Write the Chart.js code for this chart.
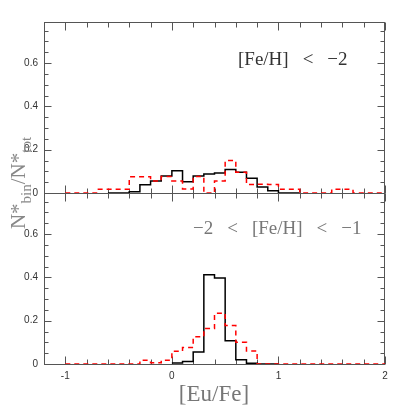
<!DOCTYPE html>
<html>
<head>
<meta charset="utf-8">
<script src="https://cdn.jsdelivr.net/npm/chart.js@4.4.1/dist/chart.umd.min.js"></script>
<style>
html, body { margin: 0; padding: 0; background: #fff; }
#wrap { width: 407px; height: 407px; }
</style>
</head>
<body>
<div id="wrap"><canvas id="euChart" width="407" height="407"></canvas></div>
<script>
// [Eu/Fe] bin edges, 0.1 dex wide
const binEdges = [-1.0, -0.9, -0.8, -0.7, -0.6, -0.5, -0.4, -0.3, -0.2, -0.1,
                  0.0, 0.1, 0.2, 0.3, 0.4, 0.5, 0.6, 0.7, 0.8, 0.9,
                  1.0, 1.1, 1.2, 1.3, 1.4, 1.5, 1.6, 1.7, 1.8, 1.9, 2.0];

// N*bin / N*tot, null = not drawn
const poorModel = [null, null, null, null, 0, 0, 0.006, 0.038, 0.055, 0.078,
                   0.103, 0.052, 0.078, 0.088, 0.092, 0.108, 0.096, 0.068, 0.028, 0.010,
                   0, 0, null, null, null, null, null, null, null, null];
const poorObs   = [0, 0, 0, 0.017, 0.017, 0.017, 0.075, 0.075, 0.056, 0.076,
                   0.056, 0.019, 0.076, 0, 0.055, 0.150, 0.096, 0.039, 0.040, 0.039,
                   0.017, 0.017, 0, 0, 0, 0.017, 0.017, 0, 0, 0];
const richModel = [null, null, null, null, null, null, null, null, null, null,
                   0.005, 0.011, 0.056, 0.412, 0.397, 0.107, 0.020, 0.003, 0, 0,
                   null, null, null, null, null, null, null, null, null, null];
const richObs   = [0, 0, 0, 0, 0, 0, 0, 0.017, 0.006, 0.017,
                   0.059, 0.076, 0.126, 0.164, 0.234, 0.178, 0.100, 0.060, 0, 0,
                   0, 0, 0, 0, 0, 0, 0, 0, 0, 0];

const xTicks = [-1, 0, 1, 2];
const yTicks = [0, 0.2, 0.4, 0.6];
const topLabel = ['[Fe/H]', '<', '\u22122'];
const bottomLabel = ['\u22122', '<', '[Fe/H]', '<', '\u22121'];

// histogram outline: each value holds from its left edge to the next edge
function toSteps(values) {
    const pts = [];
    values.forEach((v, i) => {
        if (v === null) { pts.push({ x: binEdges[i], y: null }); return; }
        pts.push({ x: binEdges[i], y: v });
        const next = values[i + 1];
        if (next === null || next === undefined) pts.push({ x: binEdges[i + 1], y: 0 });
    });
    return pts;
}

function drawTokens(ctx, tokens, left, cy, size, gap, color) {
    ctx.font = size + 'px "Liberation Serif"';
    ctx.fillStyle = color;
    ctx.textBaseline = 'middle';
    ctx.textAlign = 'left';
    let xx = left;
    tokens.forEach(t => {
        ctx.fillText(t, xx, cy);
        xx += ctx.measureText(t).width + gap;
    });
}

const panelDecor = {
    id: 'panelDecor',
    beforeDatasetsDraw(chart) {
        const { ctx, chartArea: a, scales } = chart;
        const x = scales.x;
        ctx.save();
        ctx.strokeStyle = '#555';
        ctx.lineWidth = 1;
        ['yTop', 'yBot'].forEach(id => {
            const y = scales[id];
            const t = Math.round(y.top) + 0.5, b = Math.round(y.bottom) + 0.5;
            const l = Math.round(a.left) + 0.5, r = Math.round(a.right) - 0.5;
            ctx.strokeRect(l, t, r - l, b - t);
            ctx.beginPath();
            // x ticks every 0.2, longer at integers
            for (let k = -5; k <= 10; k++) {
                const px = Math.round(x.getPixelForValue(k * 0.2)) + 0.5;
                const len = (k % 5 === 0) ? 8 : 5;
                ctx.moveTo(px, b); ctx.lineTo(px, b - len);
                ctx.moveTo(px, t); ctx.lineTo(px, t + len);
            }
            // y ticks every 0.05, longer at 0.2
            for (let k = 1; k <= 15; k++) {
                const py = Math.round(y.getPixelForValue(k * 0.05)) + 0.5;
                const len = (k % 4 === 0) ? 7 : 4;
                ctx.moveTo(l, py); ctx.lineTo(l + len, py);
                ctx.moveTo(r, py); ctx.lineTo(r - len, py);
            }
            ctx.stroke();
        });
        ctx.restore();
    },
    afterDraw(chart) {
        const { ctx } = chart;
        ctx.save();
        drawTokens(ctx, topLabel, 238, 60, 19, 14, '#333');
        drawTokens(ctx, bottomLabel, 193, 229, 19, 14, '#777');

        // x title
        ctx.font = '23px "Liberation Serif"';
        ctx.fillStyle = '#777';
        ctx.textAlign = 'center';
        ctx.textBaseline = 'middle';
        ctx.fillText('[Eu/Fe]', 214, 395);

        // y title with subscripts
        const parts = [
            { t: 'N*', size: 21, dy: 0 },
            { t: 'bin', size: 15, dy: 6 },
            { t: '/N*', size: 21, dy: 0 },
            { t: 'tot', size: 15, dy: 6 }
        ];
        ctx.translate(25, 183);
        ctx.rotate(-Math.PI / 2);
        ctx.textAlign = 'left';
        ctx.textBaseline = 'alphabetic';
        ctx.fillStyle = '#888';
        let total = 0;
        parts.forEach(p => {
            ctx.font = p.size + 'px "Liberation Serif"';
            p.w = ctx.measureText(p.t).width;
            total += p.w;
        });
        let xx = -total / 2;
        parts.forEach(p => {
            ctx.font = p.size + 'px "Liberation Serif"';
            ctx.fillText(p.t, xx, p.dy);
            xx += p.w;
        });
        ctx.restore();
    }
};

const lineStyle = { stepped: 'before', pointRadius: 0, fill: false, spanGaps: false, tension: 0 };
const tickFont = { family: '"Liberation Sans", Arial, sans-serif', size: 10 };

const yAxis = (weight) => ({
    type: 'linear',
    position: 'left',
    stack: 'panels',
    stackWeight: weight,
    min: 0,
    max: 0.79,
    grid: { display: false, drawTicks: false },
    border: { display: false },
    afterFit(scale) { scale.width = 44; },
    afterBuildTicks(scale) { scale.ticks = yTicks.map(v => ({ value: v })); },
    ticks: {
        font: tickFont,
        color: '#333',
        padding: 6,
        callback: v => String(v)
    }
});

new Chart(document.getElementById('euChart'), {
    type: 'line',
    data: {
        datasets: [
            Object.assign({ data: toSteps(poorObs), yAxisID: 'yTop', borderColor: '#ff0000', borderWidth: 1.5, borderDash: [5, 4] }, lineStyle),
            Object.assign({ data: toSteps(poorModel), yAxisID: 'yTop', borderColor: '#000000', borderWidth: 1.5 }, lineStyle),
            Object.assign({ data: toSteps(richObs), yAxisID: 'yBot', borderColor: '#ff0000', borderWidth: 1.5, borderDash: [5, 4] }, lineStyle),
            Object.assign({ data: toSteps(richModel), yAxisID: 'yBot', borderColor: '#000000', borderWidth: 1.5 }, lineStyle)
        ]
    },
    options: {
        responsive: false,
        animation: false,
        events: [],
        layout: { padding: { top: 22, right: 22, left: 0, bottom: 0 } },
        plugins: { legend: { display: false }, tooltip: { enabled: false } },
        scales: {
            x: {
                type: 'linear',
                min: -1.2,
                max: 2,
                grid: { display: false, drawTicks: false },
                border: { display: false },
                afterFit(scale) { scale.height = 43; },
                afterBuildTicks(scale) { scale.ticks = xTicks.map(v => ({ value: v })); },
                ticks: { font: tickFont, color: '#333', padding: 6, maxRotation: 0, callback: v => String(v) }
            },
            yBot: yAxis(1),
            yTop: yAxis(1)
        }
    },
    plugins: [panelDecor]
});
</script>
</body>
</html>
